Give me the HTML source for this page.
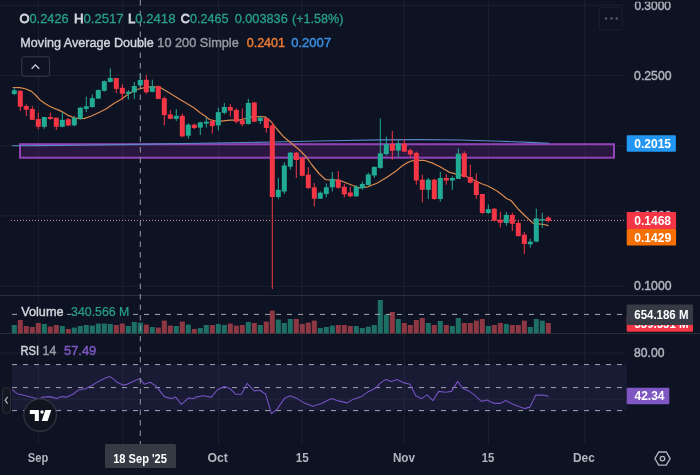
<!DOCTYPE html><html><head><meta charset="utf-8"><style>
html,body{margin:0;padding:0;background:#0e1323;width:700px;height:475px;overflow:hidden;}
svg{display:block;font-family:"Liberation Sans", sans-serif;}
</style></head><body>
<svg width="700" height="475" viewBox="0 0 700 475">
<rect width="700" height="475" fill="#0e1323"/>
<defs><filter id="nf" x="-5%" y="-30%" width="110%" height="160%"><feOffset dx="0" dy="0"/></filter></defs>
<line x1="0" x2="624.5" y1="5.3" y2="5.3" stroke="#1c2130" stroke-width="1"/>
<line x1="0" x2="624.5" y1="75.4" y2="75.4" stroke="#1c2130" stroke-width="1"/>
<line x1="0" x2="624.5" y1="145.7" y2="145.7" stroke="#1c2130" stroke-width="1"/>
<line x1="0" x2="624.5" y1="215.9" y2="215.9" stroke="#1c2130" stroke-width="1"/>
<line x1="0" x2="624.5" y1="286.3" y2="286.3" stroke="#1c2130" stroke-width="1"/>
<line x1="0" x2="624.5" y1="353.1" y2="353.1" stroke="#1c2130" stroke-width="1"/>
<line x1="0" x2="624.5" y1="399.1" y2="399.1" stroke="#1c2130" stroke-width="1"/>
<line x1="38.3" x2="38.3" y1="0" y2="444.5" stroke="#1c2130" stroke-width="1"/>
<line x1="122.9" x2="122.9" y1="0" y2="444.5" stroke="#1c2130" stroke-width="1"/>
<line x1="218.6" x2="218.6" y1="0" y2="444.5" stroke="#1c2130" stroke-width="1"/>
<line x1="301.9" x2="301.9" y1="0" y2="444.5" stroke="#1c2130" stroke-width="1"/>
<line x1="404.3" x2="404.3" y1="0" y2="444.5" stroke="#1c2130" stroke-width="1"/>
<line x1="488.3" x2="488.3" y1="0" y2="444.5" stroke="#1c2130" stroke-width="1"/>
<line x1="584.8" x2="584.8" y1="0" y2="444.5" stroke="#1c2130" stroke-width="1"/>
<line x1="0" x2="700" y1="295.5" y2="295.5" stroke="#2a2e39" stroke-width="1"/>
<line x1="0" x2="700" y1="333.5" y2="333.5" stroke="#2a2e39" stroke-width="1"/>
<rect x="20" y="144.2" width="594" height="13.5" fill="#9c27b0" fill-opacity="0.2" stroke="#9044b8" stroke-width="2"/>
<polyline points="12.0,145.8 40.0,145.6 80.0,145.2 137.0,144.4 200.0,143.3 274.0,142.0 330.0,140.8 380.0,139.9 420.0,139.6 460.0,140.0 500.0,141.2 530.0,142.4 549.0,143.2" fill="none" stroke="#5b86c8" stroke-width="1.1"/>
<polyline points="12.6,87.5 20.0,87.6 26.0,89.0 31.5,91.4 36.0,95.5 40.4,100.3 45.0,103.5 49.2,106.0 54.0,108.3 59.3,110.4 64.0,112.8 68.2,115.4 73.9,117.8 79.0,118.6 84.7,118.4 92.0,115.8 99.5,112.2 106.8,108.5 114.2,103.3 121.6,98.9 128.9,93.7 135.0,90.2 140.9,88.3 149.7,86.8 157.0,87.0 160.0,87.4 164.5,90.0 172.0,94.5 179.2,98.9 186.0,103.0 193.9,107.7 199.8,112.5 205.0,116.0 209.5,119.5 215.4,121.0 221.3,121.2 230.1,120.2 238.9,120.2 245.9,118.5 251.0,117.2 257.7,116.5 265.0,116.8 271.0,121.5 276.8,129.0 284.2,137.3 291.6,143.5 299.0,149.5 306.3,157.0 312.0,165.0 319.0,173.5 325.7,179.7 330.7,180.0 339.5,180.2 349.0,184.0 358.5,187.8 368.0,186.8 377.4,183.0 386.9,177.3 396.4,170.7 402.0,166.0 406.8,162.9 411.9,160.8 417.0,160.3 423.7,160.3 432.1,162.9 440.5,167.0 448.9,172.1 455.6,173.8 465.2,176.0 474.7,180.5 481.0,183.5 488.0,186.0 497.4,191.2 502.0,194.8 506.9,198.8 511.0,200.5 517.8,208.7 524.7,215.5 532.9,223.1 538.4,223.8 543.8,224.5 548.5,225.6" fill="none" stroke="#d98a4c" stroke-width="1.2" stroke-linejoin="round"/>
<line x1="11" x2="626" y1="220.4" y2="220.4" stroke="#e68a9c" stroke-width="1" stroke-dasharray="1 2"/>
<rect x="13.8" y="87.6" width="1" height="7.6" fill="#22ab94"/>
<rect x="11.8" y="90.2" width="5" height="3.8" fill="#22ab94"/>
<rect x="19.8" y="90.2" width="1" height="20.8" fill="#f23645"/>
<rect x="17.8" y="90.8" width="5" height="15.8" fill="#f23645"/>
<rect x="25.8" y="104.3" width="1" height="11.7" fill="#f23645"/>
<rect x="23.8" y="106" width="5" height="3.7" fill="#f23645"/>
<rect x="31.8" y="106" width="1" height="14.0" fill="#f23645"/>
<rect x="29.8" y="108.9" width="5" height="10.9" fill="#f23645"/>
<rect x="37.8" y="112.6" width="1" height="16.7" fill="#f23645"/>
<rect x="35.8" y="119" width="5" height="7.8" fill="#f23645"/>
<rect x="43.8" y="117" width="1" height="11.7" fill="#22ab94"/>
<rect x="41.8" y="117" width="5" height="9.8" fill="#22ab94"/>
<rect x="49.8" y="112.6" width="1" height="7.2" fill="#f23645"/>
<rect x="47.8" y="117" width="5" height="2.0" fill="#f23645"/>
<rect x="55.8" y="117.7" width="1" height="12.3" fill="#f23645"/>
<rect x="53.8" y="117.7" width="5" height="9.1" fill="#f23645"/>
<rect x="61.8" y="112.3" width="1" height="15.1" fill="#22ab94"/>
<rect x="59.8" y="119.8" width="5" height="7.0" fill="#22ab94"/>
<rect x="67.8" y="118" width="1" height="8.0" fill="#f23645"/>
<rect x="65.8" y="119.2" width="5" height="6.3" fill="#f23645"/>
<rect x="73.8" y="115.8" width="1" height="10.4" fill="#22ab94"/>
<rect x="71.8" y="118" width="5" height="7.4" fill="#22ab94"/>
<rect x="79.8" y="107" width="1" height="12.5" fill="#22ab94"/>
<rect x="77.8" y="107.7" width="5" height="11.1" fill="#22ab94"/>
<rect x="85.8" y="96.7" width="1" height="15.5" fill="#22ab94"/>
<rect x="83.8" y="106.3" width="5" height="2.6" fill="#22ab94"/>
<rect x="91.8" y="94.5" width="1" height="13.2" fill="#22ab94"/>
<rect x="89.8" y="98.2" width="5" height="8.8" fill="#22ab94"/>
<rect x="97.8" y="89.3" width="1" height="9.6" fill="#22ab94"/>
<rect x="95.8" y="90" width="5" height="8.6" fill="#22ab94"/>
<rect x="103.8" y="80.5" width="1" height="11.0" fill="#22ab94"/>
<rect x="101.8" y="81.2" width="5" height="9.6" fill="#22ab94"/>
<rect x="109.8" y="68.4" width="1" height="14.0" fill="#22ab94"/>
<rect x="107.8" y="78" width="5" height="4.0" fill="#22ab94"/>
<rect x="115.8" y="78" width="1" height="15.0" fill="#f23645"/>
<rect x="113.8" y="78" width="5" height="10.9" fill="#f23645"/>
<rect x="121.8" y="84.2" width="1" height="15.8" fill="#f23645"/>
<rect x="119.8" y="87.8" width="5" height="5.9" fill="#f23645"/>
<rect x="127.8" y="90" width="1" height="9.6" fill="#22ab94"/>
<rect x="125.8" y="91.8" width="5" height="1.9" fill="#22ab94"/>
<rect x="133.8" y="82" width="1" height="17.0" fill="#22ab94"/>
<rect x="131.8" y="86" width="5" height="6.3" fill="#22ab94"/>
<rect x="139.8" y="73" width="1" height="13.5" fill="#22ab94"/>
<rect x="137.8" y="79.9" width="5" height="5.5" fill="#22ab94"/>
<rect x="145.8" y="75" width="1" height="18.7" fill="#f23645"/>
<rect x="143.8" y="79.7" width="5" height="12.6" fill="#f23645"/>
<rect x="151.8" y="79.7" width="1" height="12.6" fill="#22ab94"/>
<rect x="149.8" y="86.4" width="5" height="5.4" fill="#22ab94"/>
<rect x="157.8" y="85.6" width="1" height="13.6" fill="#f23645"/>
<rect x="155.8" y="86" width="5" height="12.9" fill="#f23645"/>
<rect x="163.8" y="96.7" width="1" height="28.7" fill="#f23645"/>
<rect x="161.8" y="98.2" width="5" height="16.9" fill="#f23645"/>
<rect x="169.8" y="110" width="1" height="9.2" fill="#f23645"/>
<rect x="167.8" y="114.4" width="5" height="4.4" fill="#f23645"/>
<rect x="175.8" y="109.2" width="1" height="11.8" fill="#22ab94"/>
<rect x="173.8" y="115.8" width="5" height="3.0" fill="#22ab94"/>
<rect x="181.8" y="113.6" width="1" height="23.6" fill="#f23645"/>
<rect x="179.8" y="115.8" width="5" height="20.6" fill="#f23645"/>
<rect x="187.8" y="123.2" width="1" height="15.4" fill="#22ab94"/>
<rect x="185.8" y="124.6" width="5" height="11.1" fill="#22ab94"/>
<rect x="193.8" y="123.6" width="1" height="5.4" fill="#f23645"/>
<rect x="191.8" y="124.6" width="5" height="3.4" fill="#f23645"/>
<rect x="199.8" y="121.7" width="1" height="13.3" fill="#22ab94"/>
<rect x="197.8" y="122.4" width="5" height="5.2" fill="#22ab94"/>
<rect x="205.8" y="118" width="1" height="9.6" fill="#22ab94"/>
<rect x="203.8" y="121.7" width="5" height="1.9" fill="#22ab94"/>
<rect x="211.8" y="119.5" width="1" height="14.0" fill="#f23645"/>
<rect x="209.8" y="121" width="5" height="5.1" fill="#f23645"/>
<rect x="217.8" y="107.7" width="1" height="22.8" fill="#22ab94"/>
<rect x="215.8" y="112.1" width="5" height="13.3" fill="#22ab94"/>
<rect x="223.8" y="103" width="1" height="11.3" fill="#22ab94"/>
<rect x="221.8" y="107" width="5" height="5.8" fill="#22ab94"/>
<rect x="229.8" y="104" width="1" height="12.5" fill="#f23645"/>
<rect x="227.8" y="107" width="5" height="3.6" fill="#f23645"/>
<rect x="235.8" y="108.4" width="1" height="15.2" fill="#f23645"/>
<rect x="233.8" y="109.9" width="5" height="11.8" fill="#f23645"/>
<rect x="241.8" y="108.4" width="1" height="17.7" fill="#f23645"/>
<rect x="239.8" y="120.2" width="5" height="4.0" fill="#f23645"/>
<rect x="247.8" y="98.8" width="1" height="25.8" fill="#22ab94"/>
<rect x="245.8" y="103" width="5" height="20.9" fill="#22ab94"/>
<rect x="253.8" y="101.8" width="1" height="20.3" fill="#f23645"/>
<rect x="251.8" y="102.5" width="5" height="19.2" fill="#f23645"/>
<rect x="259.8" y="115.8" width="1" height="8.1" fill="#22ab94"/>
<rect x="257.8" y="117.7" width="5" height="3.3" fill="#22ab94"/>
<rect x="265.8" y="117.3" width="1" height="15.4" fill="#f23645"/>
<rect x="263.8" y="118" width="5" height="10.0" fill="#f23645"/>
<rect x="271.8" y="122" width="1" height="167.0" fill="#f23645"/>
<rect x="269.8" y="125.4" width="5" height="71.6" fill="#f23645"/>
<rect x="277.8" y="178" width="1" height="21.0" fill="#22ab94"/>
<rect x="275.8" y="189.8" width="5" height="7.2" fill="#22ab94"/>
<rect x="283.8" y="162" width="1" height="32.0" fill="#22ab94"/>
<rect x="281.8" y="165.4" width="5" height="26.1" fill="#22ab94"/>
<rect x="289.8" y="151.9" width="1" height="17.7" fill="#22ab94"/>
<rect x="287.8" y="152.7" width="5" height="14.0" fill="#22ab94"/>
<rect x="295.8" y="151.9" width="1" height="26.1" fill="#f23645"/>
<rect x="293.8" y="152.7" width="5" height="7.3" fill="#f23645"/>
<rect x="301.8" y="157" width="1" height="19.3" fill="#f23645"/>
<rect x="299.8" y="157.8" width="5" height="18.0" fill="#f23645"/>
<rect x="307.8" y="167" width="1" height="22.0" fill="#f23645"/>
<rect x="305.8" y="174.6" width="5" height="13.5" fill="#f23645"/>
<rect x="313.8" y="183" width="1" height="23.6" fill="#f23645"/>
<rect x="311.8" y="187.3" width="5" height="11.4" fill="#f23645"/>
<rect x="319.8" y="191.5" width="1" height="7.5" fill="#22ab94"/>
<rect x="317.8" y="192.7" width="5" height="6.0" fill="#22ab94"/>
<rect x="325.8" y="183.6" width="1" height="13.8" fill="#22ab94"/>
<rect x="323.8" y="187.3" width="5" height="6.7" fill="#22ab94"/>
<rect x="331.8" y="172" width="1" height="19.5" fill="#22ab94"/>
<rect x="329.8" y="178.8" width="5" height="8.5" fill="#22ab94"/>
<rect x="337.8" y="171" width="1" height="17.7" fill="#f23645"/>
<rect x="335.8" y="179.8" width="5" height="8.0" fill="#f23645"/>
<rect x="343.8" y="184" width="1" height="13.6" fill="#f23645"/>
<rect x="341.8" y="186.8" width="5" height="7.6" fill="#f23645"/>
<rect x="349.8" y="186.8" width="1" height="10.5" fill="#f23645"/>
<rect x="347.8" y="192.5" width="5" height="3.8" fill="#f23645"/>
<rect x="355.8" y="185" width="1" height="11.9" fill="#22ab94"/>
<rect x="353.8" y="186.8" width="5" height="9.5" fill="#22ab94"/>
<rect x="361.8" y="181.7" width="1" height="8.0" fill="#22ab94"/>
<rect x="359.8" y="184" width="5" height="4.2" fill="#22ab94"/>
<rect x="367.8" y="172.6" width="1" height="12.9" fill="#22ab94"/>
<rect x="365.8" y="174.5" width="5" height="10.5" fill="#22ab94"/>
<rect x="373.8" y="166.5" width="1" height="11.4" fill="#22ab94"/>
<rect x="371.8" y="166.9" width="5" height="8.6" fill="#22ab94"/>
<rect x="379.8" y="118.5" width="1" height="50.3" fill="#22ab94"/>
<rect x="377.8" y="153.3" width="5" height="14.6" fill="#22ab94"/>
<rect x="385.8" y="136.6" width="1" height="18.9" fill="#22ab94"/>
<rect x="383.8" y="144.1" width="5" height="9.9" fill="#22ab94"/>
<rect x="391.8" y="130.9" width="1" height="28.8" fill="#f23645"/>
<rect x="389.8" y="143.8" width="5" height="7.0" fill="#f23645"/>
<rect x="397.8" y="140" width="1" height="17.0" fill="#22ab94"/>
<rect x="395.8" y="143.5" width="5" height="7.1" fill="#22ab94"/>
<rect x="403.8" y="139.3" width="1" height="12.6" fill="#f23645"/>
<rect x="401.8" y="143.5" width="5" height="8.1" fill="#f23645"/>
<rect x="409.8" y="148.6" width="1" height="9.2" fill="#f23645"/>
<rect x="407.8" y="150.2" width="5" height="4.2" fill="#f23645"/>
<rect x="415.8" y="151.6" width="1" height="33.1" fill="#f23645"/>
<rect x="413.8" y="152.8" width="5" height="27.7" fill="#f23645"/>
<rect x="421.8" y="174.6" width="1" height="27.8" fill="#f23645"/>
<rect x="419.8" y="179.7" width="5" height="10.1" fill="#f23645"/>
<rect x="427.8" y="178" width="1" height="21.0" fill="#22ab94"/>
<rect x="425.8" y="179.7" width="5" height="10.1" fill="#22ab94"/>
<rect x="433.8" y="178.8" width="1" height="21.1" fill="#f23645"/>
<rect x="431.8" y="179.7" width="5" height="19.3" fill="#f23645"/>
<rect x="439.8" y="172" width="1" height="29.6" fill="#22ab94"/>
<rect x="437.8" y="178" width="5" height="21.0" fill="#22ab94"/>
<rect x="445.8" y="174" width="1" height="10.7" fill="#f23645"/>
<rect x="443.8" y="178" width="5" height="2.5" fill="#f23645"/>
<rect x="451.8" y="176.3" width="1" height="13.5" fill="#22ab94"/>
<rect x="449.8" y="178" width="5" height="2.5" fill="#22ab94"/>
<rect x="457.8" y="148.5" width="1" height="30.4" fill="#22ab94"/>
<rect x="455.8" y="153.7" width="5" height="25.2" fill="#22ab94"/>
<rect x="463.8" y="151.4" width="1" height="26.2" fill="#f23645"/>
<rect x="461.8" y="153.3" width="5" height="23.7" fill="#f23645"/>
<rect x="469.8" y="164.7" width="1" height="18.6" fill="#f23645"/>
<rect x="467.8" y="177" width="5" height="5.7" fill="#f23645"/>
<rect x="475.8" y="173.2" width="1" height="25.6" fill="#f23645"/>
<rect x="473.8" y="181.4" width="5" height="13.6" fill="#f23645"/>
<rect x="481.8" y="194" width="1" height="20.0" fill="#f23645"/>
<rect x="479.8" y="194" width="5" height="19.0" fill="#f23645"/>
<rect x="487.8" y="204.5" width="1" height="9.5" fill="#22ab94"/>
<rect x="485.8" y="209.2" width="5" height="3.8" fill="#22ab94"/>
<rect x="493.8" y="208.3" width="1" height="13.3" fill="#f23645"/>
<rect x="491.8" y="208.7" width="5" height="11.9" fill="#f23645"/>
<rect x="499.8" y="211.7" width="1" height="15.8" fill="#f23645"/>
<rect x="497.8" y="219.7" width="5" height="3.1" fill="#f23645"/>
<rect x="505.8" y="212" width="1" height="13.8" fill="#22ab94"/>
<rect x="503.8" y="214.9" width="5" height="8.1" fill="#22ab94"/>
<rect x="511.8" y="212.8" width="1" height="18.2" fill="#f23645"/>
<rect x="509.8" y="214.9" width="5" height="8.9" fill="#f23645"/>
<rect x="517.8" y="219.7" width="1" height="17.1" fill="#f23645"/>
<rect x="515.8" y="223" width="5" height="13.0" fill="#f23645"/>
<rect x="523.8" y="232" width="1" height="21.9" fill="#f23645"/>
<rect x="521.8" y="234.7" width="5" height="9.3" fill="#f23645"/>
<rect x="529.8" y="238.8" width="1" height="8.9" fill="#22ab94"/>
<rect x="527.8" y="241.6" width="5" height="2.7" fill="#22ab94"/>
<rect x="535.8" y="208.7" width="1" height="33.6" fill="#22ab94"/>
<rect x="533.8" y="218.3" width="5" height="23.3" fill="#22ab94"/>
<rect x="541.8" y="212.8" width="1" height="15.1" fill="#22ab94"/>
<rect x="539.8" y="219" width="5" height="1.5" fill="#22ab94"/>
<rect x="547.8" y="216.2" width="1" height="6.2" fill="#f23645"/>
<rect x="545.8" y="217.6" width="5" height="3.4" fill="#f23645"/>
<rect x="11.8" y="325" width="5" height="8.4" fill="#1e6f64"/>
<rect x="17.8" y="320" width="5" height="13.4" fill="#8e3843"/>
<rect x="23.8" y="326" width="5" height="7.4" fill="#8e3843"/>
<rect x="29.8" y="327" width="5" height="6.4" fill="#8e3843"/>
<rect x="35.8" y="323" width="5" height="10.4" fill="#8e3843"/>
<rect x="41.8" y="324" width="5" height="9.4" fill="#1e6f64"/>
<rect x="47.8" y="326.6" width="5" height="6.8" fill="#8e3843"/>
<rect x="53.8" y="325" width="5" height="8.4" fill="#8e3843"/>
<rect x="59.8" y="326" width="5" height="7.4" fill="#1e6f64"/>
<rect x="65.8" y="329" width="5" height="4.4" fill="#8e3843"/>
<rect x="71.8" y="327.6" width="5" height="5.8" fill="#1e6f64"/>
<rect x="77.8" y="326" width="5" height="7.4" fill="#1e6f64"/>
<rect x="83.8" y="325" width="5" height="8.4" fill="#1e6f64"/>
<rect x="89.8" y="325.6" width="5" height="7.8" fill="#1e6f64"/>
<rect x="95.8" y="323.6" width="5" height="9.8" fill="#1e6f64"/>
<rect x="101.8" y="323.6" width="5" height="9.8" fill="#1e6f64"/>
<rect x="107.8" y="324" width="5" height="9.4" fill="#1e6f64"/>
<rect x="113.8" y="325" width="5" height="8.4" fill="#8e3843"/>
<rect x="119.8" y="323.6" width="5" height="9.8" fill="#8e3843"/>
<rect x="125.8" y="326" width="5" height="7.4" fill="#1e6f64"/>
<rect x="131.8" y="322" width="5" height="11.4" fill="#1e6f64"/>
<rect x="137.8" y="322.6" width="5" height="10.8" fill="#1e6f64"/>
<rect x="143.8" y="324.6" width="5" height="8.8" fill="#8e3843"/>
<rect x="149.8" y="327" width="5" height="6.4" fill="#1e6f64"/>
<rect x="155.8" y="327.6" width="5" height="5.8" fill="#8e3843"/>
<rect x="161.8" y="320.6" width="5" height="12.8" fill="#8e3843"/>
<rect x="167.8" y="325.6" width="5" height="7.8" fill="#8e3843"/>
<rect x="173.8" y="326" width="5" height="7.4" fill="#1e6f64"/>
<rect x="179.8" y="321.6" width="5" height="11.8" fill="#8e3843"/>
<rect x="185.8" y="324.6" width="5" height="8.8" fill="#1e6f64"/>
<rect x="191.8" y="329" width="5" height="4.4" fill="#8e3843"/>
<rect x="197.8" y="328" width="5" height="5.4" fill="#1e6f64"/>
<rect x="203.8" y="325" width="5" height="8.4" fill="#1e6f64"/>
<rect x="209.8" y="325" width="5" height="8.4" fill="#8e3843"/>
<rect x="215.8" y="324" width="5" height="9.4" fill="#1e6f64"/>
<rect x="221.8" y="325" width="5" height="8.4" fill="#1e6f64"/>
<rect x="227.8" y="323.6" width="5" height="9.8" fill="#8e3843"/>
<rect x="233.8" y="325.6" width="5" height="7.8" fill="#8e3843"/>
<rect x="239.8" y="325" width="5" height="8.4" fill="#8e3843"/>
<rect x="245.8" y="322" width="5" height="11.4" fill="#1e6f64"/>
<rect x="251.8" y="323" width="5" height="10.4" fill="#8e3843"/>
<rect x="257.8" y="325" width="5" height="8.4" fill="#1e6f64"/>
<rect x="263.8" y="321.6" width="5" height="11.8" fill="#8e3843"/>
<rect x="269.8" y="310.6" width="5" height="22.8" fill="#8e3843"/>
<rect x="275.8" y="319.6" width="5" height="13.8" fill="#1e6f64"/>
<rect x="281.8" y="323" width="5" height="10.4" fill="#1e6f64"/>
<rect x="287.8" y="319" width="5" height="14.4" fill="#1e6f64"/>
<rect x="293.8" y="319" width="5" height="14.4" fill="#8e3843"/>
<rect x="299.8" y="324" width="5" height="9.4" fill="#8e3843"/>
<rect x="305.8" y="322.6" width="5" height="10.8" fill="#8e3843"/>
<rect x="311.8" y="320.6" width="5" height="12.8" fill="#8e3843"/>
<rect x="317.8" y="328" width="5" height="5.4" fill="#1e6f64"/>
<rect x="323.8" y="327" width="5" height="6.4" fill="#1e6f64"/>
<rect x="329.8" y="325.6" width="5" height="7.8" fill="#1e6f64"/>
<rect x="335.8" y="325" width="5" height="8.4" fill="#8e3843"/>
<rect x="341.8" y="325" width="5" height="8.4" fill="#8e3843"/>
<rect x="347.8" y="326" width="5" height="7.4" fill="#8e3843"/>
<rect x="353.8" y="326" width="5" height="7.4" fill="#1e6f64"/>
<rect x="359.8" y="328" width="5" height="5.4" fill="#1e6f64"/>
<rect x="365.8" y="326.6" width="5" height="6.8" fill="#1e6f64"/>
<rect x="371.8" y="325" width="5" height="8.4" fill="#1e6f64"/>
<rect x="377.8" y="300" width="5" height="33.4" fill="#1e6f64"/>
<rect x="383.8" y="314.6" width="5" height="18.8" fill="#1e6f64"/>
<rect x="389.8" y="312" width="5" height="21.4" fill="#8e3843"/>
<rect x="395.8" y="319" width="5" height="14.4" fill="#1e6f64"/>
<rect x="401.8" y="323" width="5" height="10.4" fill="#8e3843"/>
<rect x="407.8" y="325" width="5" height="8.4" fill="#8e3843"/>
<rect x="413.8" y="320" width="5" height="13.4" fill="#8e3843"/>
<rect x="419.8" y="318" width="5" height="15.4" fill="#8e3843"/>
<rect x="425.8" y="323" width="5" height="10.4" fill="#1e6f64"/>
<rect x="431.8" y="325" width="5" height="8.4" fill="#8e3843"/>
<rect x="437.8" y="321" width="5" height="12.4" fill="#1e6f64"/>
<rect x="443.8" y="325" width="5" height="8.4" fill="#8e3843"/>
<rect x="449.8" y="326" width="5" height="7.4" fill="#1e6f64"/>
<rect x="455.8" y="318" width="5" height="15.4" fill="#1e6f64"/>
<rect x="461.8" y="323" width="5" height="10.4" fill="#8e3843"/>
<rect x="467.8" y="323" width="5" height="10.4" fill="#8e3843"/>
<rect x="473.8" y="320.6" width="5" height="12.8" fill="#8e3843"/>
<rect x="479.8" y="319" width="5" height="14.4" fill="#8e3843"/>
<rect x="485.8" y="326" width="5" height="7.4" fill="#1e6f64"/>
<rect x="491.8" y="325" width="5" height="8.4" fill="#8e3843"/>
<rect x="497.8" y="323" width="5" height="10.4" fill="#8e3843"/>
<rect x="503.8" y="324" width="5" height="9.4" fill="#1e6f64"/>
<rect x="509.8" y="325" width="5" height="8.4" fill="#8e3843"/>
<rect x="515.8" y="325" width="5" height="8.4" fill="#8e3843"/>
<rect x="521.8" y="320.6" width="5" height="12.8" fill="#8e3843"/>
<rect x="527.8" y="327" width="5" height="6.4" fill="#1e6f64"/>
<rect x="533.8" y="319" width="5" height="14.4" fill="#1e6f64"/>
<rect x="539.8" y="320.6" width="5" height="12.8" fill="#1e6f64"/>
<rect x="545.8" y="323" width="5" height="10.4" fill="#8e3843"/>
<line x1="12" x2="623" y1="314.4" y2="314.4" stroke="#a3a6b0" stroke-width="1" stroke-dasharray="5 6"/>
<rect x="11.8" y="364.6" width="615.2" height="46" fill="#7e57c2" fill-opacity="0.1"/>
<line x1="12" x2="623" y1="364.6" y2="364.6" stroke="#a3a6b0" stroke-width="1" stroke-dasharray="5 6"/>
<line x1="12" x2="623" y1="387.6" y2="387.6" stroke="#a3a6b0" stroke-width="1" stroke-dasharray="5 6"/>
<line x1="12" x2="623" y1="410.6" y2="410.6" stroke="#a3a6b0" stroke-width="1" stroke-dasharray="5 6"/>
<polyline points="12.0,389.4 17.1,393.7 25.7,395.7 34.3,398.0 38.6,399.4 42.9,397.1 50.0,396.6 57.1,398.6 61.4,396.6 67.1,397.1 72.9,394.3 78.6,390.0 85.7,388.6 91.4,385.7 98.6,381.4 104.3,378.6 110.0,376.6 112.9,378.6 117.1,382.3 122.9,385.1 127.1,384.3 132.9,381.4 140.0,378.6 144.3,384.3 150.0,382.3 155.7,385.7 164.3,396.6 171.4,398.6 175.7,397.1 181.4,404.3 188.6,398.0 194.3,398.6 195.7,397.1 202.9,395.7 211.4,397.1 217.1,390.0 224.3,386.6 230.0,388.6 235.7,394.3 241.4,394.3 247.1,383.4 250.0,386.3 254.3,390.9 260.0,390.3 265.7,394.3 271.4,413.7 277.1,409.1 284.3,398.6 290.0,395.7 297.1,398.6 304.3,402.9 312.9,406.3 321.4,403.4 331.4,398.6 338.6,400.9 347.1,402.9 352.9,399.4 361.4,396.6 368.6,391.4 375.7,388.0 380.0,383.4 385.7,379.4 391.4,381.4 397.1,379.4 404.3,382.9 410.0,384.3 415.7,395.7 421.4,398.6 427.1,394.9 432.9,400.6 438.6,391.4 445.7,392.3 451.4,391.4 457.7,381.4 462.9,388.6 468.6,390.9 474.3,394.9 481.4,401.4 487.1,400.0 494.3,403.4 500.0,403.4 505.7,400.6 511.4,403.4 518.6,406.6 524.3,408.6 530.0,407.1 535.7,395.1 542.9,395.1 548.6,396.3" fill="none" stroke="#7352c0" stroke-width="1.1" stroke-linejoin="round"/>
<line x1="140.3" x2="140.3" y1="0" y2="444" stroke="#9598a1" stroke-width="1" stroke-dasharray="5.5 5"/>
<text filter="url(#nf)" x="19.49" y="23.10" font-size="12.90" font-weight="normal" textLength="49.17" lengthAdjust="spacingAndGlyphs" ><tspan fill="#d1d4dc" stroke="#d1d4dc" stroke-width="0.8">O</tspan><tspan fill="#27a08c" stroke="#27a08c" stroke-width="0.3">0.2426</tspan></text>
<text filter="url(#nf)" x="73.91" y="23.10" font-size="12.90" font-weight="normal" textLength="49.76" lengthAdjust="spacingAndGlyphs" ><tspan fill="#d1d4dc" stroke="#d1d4dc" stroke-width="0.8">H</tspan><tspan fill="#27a08c" stroke="#27a08c" stroke-width="0.3">0.2517</tspan></text>
<text filter="url(#nf)" x="127.91" y="23.10" font-size="12.90" font-weight="normal" textLength="47.58" lengthAdjust="spacingAndGlyphs" ><tspan fill="#d1d4dc" stroke="#d1d4dc" stroke-width="0.8">L</tspan><tspan fill="#27a08c" stroke="#27a08c" stroke-width="0.3">0.2418</tspan></text>
<text filter="url(#nf)" x="180.87" y="23.10" font-size="12.90" font-weight="normal" textLength="47.65" lengthAdjust="spacingAndGlyphs" ><tspan fill="#d1d4dc" stroke="#d1d4dc" stroke-width="0.8">C</tspan><tspan fill="#27a08c" stroke="#27a08c" stroke-width="0.3">0.2465</tspan></text>
<text filter="url(#nf)" x="234.69" y="23.10" font-size="12.90" font-weight="normal" textLength="53.06" lengthAdjust="spacingAndGlyphs" ><tspan fill="#27a08c" stroke="#27a08c" stroke-width="0.3">0.003836</tspan></text>
<text filter="url(#nf)" x="292.01" y="23.10" font-size="12.90" font-weight="normal" textLength="51.35" lengthAdjust="spacingAndGlyphs" ><tspan fill="#27a08c" stroke="#27a08c" stroke-width="0.3">(+1.58%)</tspan></text>
<text filter="url(#nf)" x="20.36" y="47.10" font-size="13.24" font-weight="normal" textLength="133.47" lengthAdjust="spacingAndGlyphs" ><tspan fill="#d1d4dc" stroke="#d1d4dc" stroke-width="0.42">Moving Average Double</tspan></text>
<text filter="url(#nf)" x="157.35" y="47.10" font-size="13.05" font-weight="normal" textLength="81.41" lengthAdjust="spacingAndGlyphs" ><tspan fill="#9598a1" stroke="#9598a1" stroke-width="0.42">10 200 Simple</tspan></text>
<text filter="url(#nf)" x="246.70" y="47.10" font-size="13.05" font-weight="normal" textLength="38.31" lengthAdjust="spacingAndGlyphs" ><tspan fill="#ee7a30" stroke="#ee7a30" stroke-width="0.42">0.2401</tspan></text>
<text filter="url(#nf)" x="291.18" y="47.10" font-size="13.05" font-weight="normal" textLength="39.99" lengthAdjust="spacingAndGlyphs" ><tspan fill="#3a8ee0" stroke="#3a8ee0" stroke-width="0.42">0.2007</tspan></text>
<rect x="21.8" y="56.8" width="27.8" height="19.4" rx="2.5" fill="#0e1323" stroke="#3a3e4a" stroke-width="1"/>
<polyline points="31.6,68.7 35.4,64.9 39.2,68.7" fill="none" stroke="#d1d4dc" stroke-width="1.25"/>
<rect x="599.3" y="7.7" width="22.8" height="22.3" rx="1.5" fill="none" stroke="#1c2130" stroke-width="1"/>
<circle cx="606" cy="18.6" r="1.25" fill="#585b66"/>
<circle cx="611.5" cy="18.6" r="1.25" fill="#585b66"/>
<circle cx="616.8" cy="18.6" r="1.25" fill="#585b66"/>
<rect x="19" y="305" width="46" height="14" fill="#0e1323"/>
<rect x="71" y="305" width="59.5" height="14" fill="#0e1323"/>
<text filter="url(#nf)" x="21.34" y="316.40" font-size="12.65" font-weight="normal" textLength="42.11" lengthAdjust="spacingAndGlyphs" ><tspan fill="#d1d4dc" stroke="#d1d4dc" stroke-width="0.42">Volume</tspan></text>
<text filter="url(#nf)" x="71.04" y="316.40" font-size="12.47" font-weight="normal" textLength="58.39" lengthAdjust="spacingAndGlyphs" ><tspan fill="#27a08c" stroke="#27a08c" stroke-width="0.2">340.566 M</tspan></text>
<text filter="url(#nf)" x="20.48" y="354.80" font-size="12.51" font-weight="normal" textLength="18.65" lengthAdjust="spacingAndGlyphs" ><tspan fill="#d1d4dc" stroke="#d1d4dc" stroke-width="0.42">RSI</tspan></text>
<text filter="url(#nf)" x="42.58" y="354.80" font-size="12.51" font-weight="normal" textLength="13.69" lengthAdjust="spacingAndGlyphs" ><tspan fill="#9598a1" stroke="#9598a1" stroke-width="0.42">14</tspan></text>
<text filter="url(#nf)" x="63.98" y="354.80" font-size="12.51" font-weight="normal" textLength="32.30" lengthAdjust="spacingAndGlyphs" ><tspan fill="#7e57c2" stroke="#7e57c2" stroke-width="0.42">57.49</tspan></text>
<defs><clipPath id="ctop"><rect x="600" y="1.8" width="100" height="20"/></clipPath></defs>
<text filter="url(#nf)" x="634.42" y="9.90" font-size="12.33" font-weight="normal" textLength="36.54" lengthAdjust="spacingAndGlyphs" clip-path="url(#ctop)"><tspan fill="#b2b5be" stroke="#b2b5be" stroke-width="0.42">0.3000</tspan></text>
<text filter="url(#nf)" x="634.11" y="79.60" font-size="12.33" font-weight="normal" textLength="37.36" lengthAdjust="spacingAndGlyphs" ><tspan fill="#b2b5be" stroke="#b2b5be" stroke-width="0.42">0.2500</tspan></text>
<text filter="url(#nf)" x="634.11" y="220.20" font-size="12.33" font-weight="normal" textLength="37.36" lengthAdjust="spacingAndGlyphs" ><tspan fill="#b2b5be" stroke="#b2b5be" stroke-width="0.42">0.1500</tspan></text>
<text filter="url(#nf)" x="634.11" y="290.10" font-size="12.33" font-weight="normal" textLength="37.36" lengthAdjust="spacingAndGlyphs" ><tspan fill="#b2b5be" stroke="#b2b5be" stroke-width="0.42">0.1000</tspan></text>
<text filter="url(#nf)" x="634.08" y="357.20" font-size="12.33" font-weight="normal" textLength="30.37" lengthAdjust="spacingAndGlyphs" ><tspan fill="#b2b5be" stroke="#b2b5be" stroke-width="0.42">80.00</tspan></text>
<rect x="626.7" y="135.3" width="49.19999999999993" height="16.5" rx="1" fill="#2196f3"/>
<text filter="url(#nf)" x="634.22" y="147.85" font-size="12.33" font-weight="bold" textLength="36.83" lengthAdjust="spacingAndGlyphs" ><tspan fill="#ffffff" stroke="#ffffff" stroke-width="0">0.2015</tspan></text>
<rect x="626.7" y="212.0" width="49.39999999999998" height="16.900000000000006" rx="1" fill="#f23645"/>
<text filter="url(#nf)" x="634.22" y="224.75" font-size="12.33" font-weight="bold" textLength="36.86" lengthAdjust="spacingAndGlyphs" ><tspan fill="#ffffff" stroke="#ffffff" stroke-width="0">0.1468</tspan></text>
<rect x="626.7" y="228.9" width="49.39999999999998" height="16.69999999999999" rx="1" fill="#f66f05"/>
<text filter="url(#nf)" x="634.22" y="241.55" font-size="12.33" font-weight="bold" textLength="36.92" lengthAdjust="spacingAndGlyphs" ><tspan fill="#ffffff" stroke="#ffffff" stroke-width="0">0.1429</tspan></text>
<rect x="626.7" y="315.3" width="66.29999999999995" height="16.5" rx="1" fill="#f23645"/>
<text filter="url(#nf)" x="634.44" y="327.85" font-size="12.33" font-weight="bold" textLength="54.01" lengthAdjust="spacingAndGlyphs" ><tspan fill="#ffffff" stroke="#ffffff" stroke-width="0">339.551 M</tspan></text>
<rect x="626.7" y="304.5" width="66.29999999999995" height="20.5" rx="1" fill="#363a45"/>
<text filter="url(#nf)" x="634.27" y="319.05" font-size="12.33" font-weight="bold" textLength="54.18" lengthAdjust="spacingAndGlyphs" ><tspan fill="#ffffff" stroke="#ffffff" stroke-width="0">654.186 M</tspan></text>
<rect x="626.7" y="387.8" width="42.59999999999991" height="16.5" rx="1" fill="#7e57c2"/>
<text filter="url(#nf)" x="634.52" y="400.35" font-size="12.33" font-weight="bold" textLength="29.94" lengthAdjust="spacingAndGlyphs" ><tspan fill="#ffffff" stroke="#ffffff" stroke-width="0">42.34</tspan></text>
<text filter="url(#nf)" x="27.87" y="462.20" font-size="13.19" font-weight="bold" textLength="20.40" lengthAdjust="spacingAndGlyphs" ><tspan fill="#b2b5be" stroke="#b2b5be" stroke-width="0">Sep</tspan></text>
<text filter="url(#nf)" x="207.51" y="462.20" font-size="13.19" font-weight="bold" textLength="20.44" lengthAdjust="spacingAndGlyphs" ><tspan fill="#b2b5be" stroke="#b2b5be" stroke-width="0">Oct</tspan></text>
<text filter="url(#nf)" x="295.67" y="462.20" font-size="13.38" font-weight="bold" textLength="12.98" lengthAdjust="spacingAndGlyphs" ><tspan fill="#b2b5be" stroke="#b2b5be" stroke-width="0">15</tspan></text>
<text filter="url(#nf)" x="392.91" y="462.20" font-size="13.19" font-weight="bold" textLength="22.14" lengthAdjust="spacingAndGlyphs" ><tspan fill="#b2b5be" stroke="#b2b5be" stroke-width="0">Nov</tspan></text>
<text filter="url(#nf)" x="481.80" y="462.20" font-size="13.38" font-weight="bold" textLength="12.54" lengthAdjust="spacingAndGlyphs" ><tspan fill="#b2b5be" stroke="#b2b5be" stroke-width="0">15</tspan></text>
<text filter="url(#nf)" x="573.00" y="462.20" font-size="13.19" font-weight="bold" textLength="21.75" lengthAdjust="spacingAndGlyphs" ><tspan fill="#b2b5be" stroke="#b2b5be" stroke-width="0">Dec</tspan></text>
<rect x="105" y="444" width="71" height="24" rx="1.5" fill="#363a45"/>
<text filter="url(#nf)" x="113.21" y="462.70" font-size="13.67" font-weight="bold" textLength="53.72" lengthAdjust="spacingAndGlyphs" ><tspan fill="#ffffff" stroke="#ffffff" stroke-width="0">18 Sep '25</tspan></text>
<polygon points="670.10,458.60 666.30,465.18 658.70,465.18 654.90,458.60 658.70,452.02 666.30,452.02" fill="none" stroke="#b2b5be" stroke-width="1.3"/>
<circle cx="662.5" cy="458.6" r="2.3" fill="none" stroke="#b2b5be" stroke-width="1.3"/>
<rect x="2.5" y="387.5" width="8" height="25.5" rx="3" fill="#131722" stroke="#2a2e39" stroke-width="1"/>
<polyline points="7.6,396.8 5.2,400.2 7.6,403.6" fill="none" stroke="#b2b5be" stroke-width="1.2"/>
<circle cx="40.1" cy="415.1" r="16.3" fill="#10141f" stroke="#343844" stroke-width="1.2"/>
<path d="M29.8,410.1 H38.9 V420.9 H34.8 V413.9 H29.8 Z" fill="#ffffff"/>
<circle cx="42.0" cy="412.0" r="1.65" fill="#ffffff"/>
<path d="M45.3,410.1 H51.3 L47.6,420.9 H41.7 Z" fill="#ffffff"/>
</svg></body></html>
